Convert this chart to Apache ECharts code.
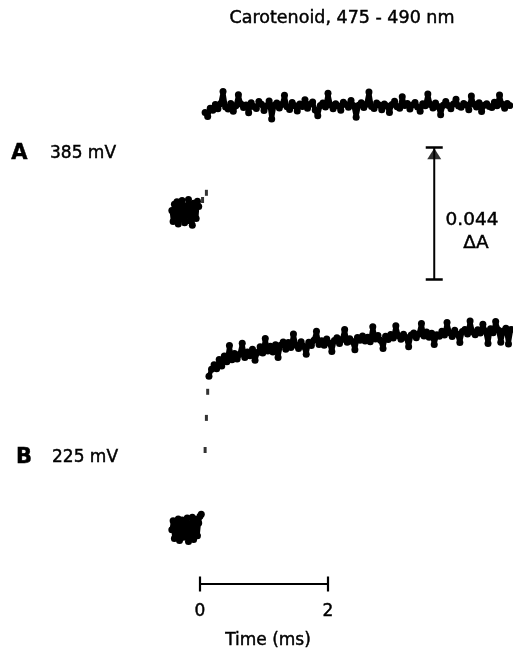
<!DOCTYPE html>
<html><head><meta charset="utf-8">
<script src="https://cdn.jsdelivr.net/npm/echarts@6/dist/echarts.min.js"></script>
<style>html,body{margin:0;padding:0;background:#fff}#c{width:513px;height:655px}</style>
</head><body><div id="c"></div>
<script>
// Units: time in ms, absorbance change in 10^-3 ΔA (relative to each trace's pre-flash baseline)
const FONT = 'DejaVu Sans';
const titleText = 'Carotenoid, 475 - 490 nm';
const traceNames = ['A', 'B'];
const traceVoltages = ['385 mV', '225 mV'];
const sampleStepMs = 0.04;

// Trace A (385 mV)
const traceA_preTimes  = [-0.44,-0.42,-0.40,-0.38,-0.36,-0.34,-0.32,-0.30,-0.28,-0.26,-0.24,-0.22,-0.20,-0.18,-0.16,-0.14,-0.12,-0.10,-0.08,-0.06,-0.04,-0.02];
const traceA_preValues = [0.5,-3.2,2.6,-1.1,3.4,-4.0,1.5,-2.4,3.8,0.2,-3.6,2.1,-0.7,4.2,-2.9,1.0,-4.4,2.9,0.4,-2.2,3.6,1.8];
const traceA_riseTimes  = [0.04, 0.10];
const traceA_riseValues = [4.0, 6.4];
const traceA_plateauStart = 0.08;
const traceA_plateauValues = [
  33.2,31.8,34.6,33.9,35.8,34.4,36.1,40.2,35.0,34.3,
  36.2,33.6,35.4,39.1,36.0,34.8,35.7,33.1,36.4,35.2,
  34.5,36.8,35.9,33.8,35.3,37.0,31.0,35.6,36.3,34.7,
  35.8,38.9,35.1,34.2,36.5,35.4,33.7,36.0,35.2,37.4,
  34.6,35.9,36.7,34.0,32.1,35.5,36.3,35.0,39.6,35.7,
  34.4,36.1,35.3,33.9,36.6,35.8,34.9,37.2,35.4,31.6,
  35.6,36.4,34.8,35.9,40.0,35.2,34.5,36.3,35.7,34.1,
  36.0,35.3,33.2,35.8,36.9,35.1,34.6,38.4,35.5,36.2,
  34.3,35.7,36.5,35.0,33.6,36.1,35.4,39.3,35.8,34.7,
  36.3,35.2,32.4,35.6,36.8,35.5,34.4,36.0,37.6,35.3,
  34.9,36.2,35.7,34.1,38.7,35.9,35.0,36.4,33.5,35.6,
  36.1,35.2,34.8,36.6,35.4,39.0,35.9,34.6,36.2,35.5
];

// Trace B (225 mV)
const traceB_preTimes  = [-0.44,-0.42,-0.40,-0.38,-0.36,-0.34,-0.32,-0.30,-0.28,-0.26,-0.24,-0.22,-0.20,-0.18,-0.16,-0.14,-0.12,-0.10,-0.08,-0.06,-0.04,-0.02,0.00,0.02];
const traceB_preValues = [-0.6,2.4,-3.5,1.2,-1.8,3.0,-4.2,0.8,2.7,-3.1,1.6,-0.9,3.3,-4.5,1.1,-2.0,3.6,-3.8,0.3,2.9,-2.6,1.7,3.9,4.6];
const traceB_riseTimes  = [0.08, 0.10, 0.12];
const traceB_riseValues = [26.0, 36.7, 45.4];
const traceB_plateauStart = 0.14;
const traceB_plateauValues = [
  50.6,52.9,54.4,53.1,56.2,54.0,57.3,55.4,60.8,56.1,
  58.2,56.3,57.9,61.6,56.8,58.7,57.4,59.6,55.9,58.5,
  60.4,58.3,63.2,59.0,60.6,58.7,61.1,56.8,60.9,62.0,
  59.6,61.8,60.2,64.7,60.9,59.8,62.1,60.6,57.9,61.9,
  60.8,62.6,65.6,61.2,62.4,60.9,63.0,61.7,58.8,62.5,
  63.4,61.5,62.8,66.2,61.9,63.1,62.2,59.4,63.5,62.6,
  64.0,62.3,63.6,62.1,67.1,63.0,64.2,62.6,59.8,63.9,
  62.8,64.5,63.3,67.4,64.1,62.9,64.6,63.5,60.4,64.3,
  65.0,63.4,64.7,68.2,64.0,65.3,63.6,64.9,61.2,64.4,
  63.9,65.6,64.3,68.5,65.1,63.8,65.9,64.6,61.8,65.5,
  66.2,64.7,69.0,65.3,64.4,66.1,65.0,67.9,65.6,61.5,
  66.4,65.1,68.8,66.0,61.9,65.7,66.6,61.3,66.2
];

// Calibration bars
const timeBarTicks = [0, 2];          // ms
const absorbanceBarSize = 44;         // 10^-3 ΔA  (0.044 ΔA)
const absorbanceBarLabel = ['0.044', 'ΔA'];
const timeAxisName = 'Time (ms)';

// ---- build ----
const pairs = (ts, vs) => vs.map((v, i) => [ts[i], v]);
const sampled = (t0, vs) => vs.map((v, i) => [+(t0 + i * sampleStepMs).toFixed(3), v]);

const X_MIN = -0.6, X_MAX = 4.88, PX_PER_MS = 64;
const GRID_LEFT = 200 + X_MIN * PX_PER_MS;
const GRID_W = (X_MAX - X_MIN) * PX_PER_MS;
const PX_PER_UNIT = 3;

const gridA = { yMin: -24, yMax: 44, top: 80 };
const gridB = { yMin: -12, yMax: 70, top: 318 };

function traceSeries(idx, data) {
  return {
    type: 'line', xAxisIndex: idx, yAxisIndex: idx, data,
    symbol: 'circle', symbolSize: 7, showSymbol: true,
    itemStyle: { color: '#000' },
    lineStyle: { color: '#000', width: 4.6, join: 'round', cap: 'round' },
    silent: true, animation: false, z: 3
  };
}
function riseSeries(idx, data) {
  return {
    type: 'scatter', xAxisIndex: idx, yAxisIndex: idx, data,
    symbol: 'rect', symbolSize: [3, 6],
    itemStyle: { color: '#000' }, silent: true, animation: false, z: 3
  };
}

const barX = 3.66;
const barLow = -22.5;
const txt = (x, y, text, size, align, weight) => ({
  type: 'text', x, y,
  style: { text, fontFamily: FONT, fontSize: size, fontWeight: weight || 'normal', fill: '#000',
           stroke: '#000', lineWidth: 0.45, align: align || 'center', verticalAlign: 'middle' }
});

const option = {
  backgroundColor: '#fff',
  animation: false,
  grid: [
    { left: GRID_LEFT, width: GRID_W, top: gridA.top, height: (gridA.yMax - gridA.yMin) * PX_PER_UNIT },
    { left: GRID_LEFT, width: GRID_W, top: gridB.top, height: (gridB.yMax - gridB.yMin) * PX_PER_UNIT },
    { left: GRID_LEFT, width: GRID_W, top: 569, height: 30 }
  ],
  xAxis: [0, 1, 2].map(i => ({ type: 'value', gridIndex: i, min: X_MIN, max: X_MAX, show: false })),
  yAxis: [
    { type: 'value', gridIndex: 0, min: gridA.yMin, max: gridA.yMax, show: false },
    { type: 'value', gridIndex: 1, min: gridB.yMin, max: gridB.yMax, show: false },
    { type: 'value', gridIndex: 2, min: 0, max: 1, show: false }
  ],
  series: [
    traceSeries(0, pairs(traceA_preTimes, traceA_preValues)),
    riseSeries(0, pairs(traceA_riseTimes, traceA_riseValues)),
    traceSeries(0, sampled(traceA_plateauStart, traceA_plateauValues)),
    traceSeries(1, pairs(traceB_preTimes, traceB_preValues)),
    riseSeries(1, pairs(traceB_riseTimes, traceB_riseValues)),
    traceSeries(1, sampled(traceB_plateauStart, traceB_plateauValues)),
    // absorbance calibration bar
    {
      type: 'line', xAxisIndex: 0, yAxisIndex: 0, silent: true, animation: false,
      data: [[barX, barLow], [barX, barLow + absorbanceBarSize]],
      symbol: 'rect', symbolSize: [17, 2.5], showSymbol: true,
      itemStyle: { color: '#000' }, lineStyle: { color: '#000', width: 2 }
    },
    {
      type: 'scatter', xAxisIndex: 0, yAxisIndex: 0, silent: true, animation: false,
      data: [[barX, barLow + absorbanceBarSize - 2.1]],
      symbol: 'triangle', symbolSize: [14, 11],
      itemStyle: { color: '#000' }
    },
    // time calibration bar
    {
      type: 'line', xAxisIndex: 2, yAxisIndex: 2, silent: true, animation: false,
      data: timeBarTicks.map(t => [t, 0.5]),
      symbol: 'rect', symbolSize: [2.2, 15], showSymbol: true,
      itemStyle: { color: '#000' }, lineStyle: { color: '#000', width: 2 },
      label: {
        show: true, position: 'bottom', distance: 12,
        formatter: p => String(p.value[0]),
        fontFamily: FONT, fontSize: 17, color: '#000',
        textBorderColor: '#000', textBorderWidth: 0.45
      }
    }
  ],
  graphic: [
    txt(342, 18, titleText, 17.5),
    txt(19.5, 154, traceNames[0], 21, 'center', 'bold'),
    txt(50, 154, traceVoltages[0], 17, 'left'),
    txt(24, 458, traceNames[1], 21, 'center', 'bold'),
    txt(52, 458, traceVoltages[1], 17, 'left'),
    txt(472, 220, absorbanceBarLabel[0], 18.5),
    txt(476, 243, absorbanceBarLabel[1], 18.5),
    txt(268, 641, timeAxisName, 17)
  ]
};

const chart = echarts.init(document.getElementById('c'), null, { renderer: 'canvas' });
chart.setOption(option);
</script></body></html>
